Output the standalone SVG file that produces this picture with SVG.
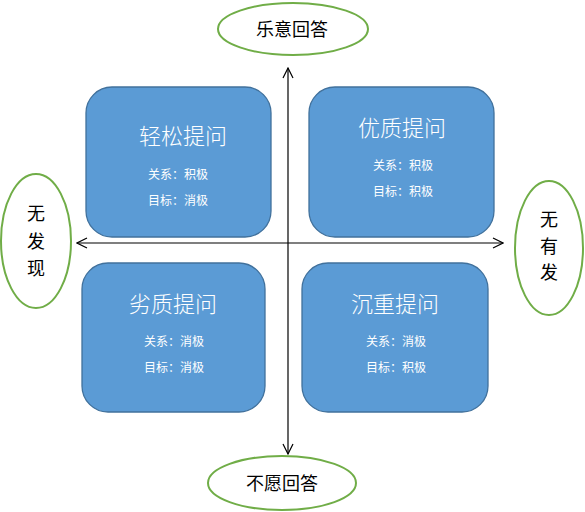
<svg xmlns="http://www.w3.org/2000/svg" width="585" height="512" viewBox="0 0 585 512">
<style>
.box{fill:#5B9BD5;stroke:#41719C;stroke-width:1.3}
.ell{fill:#fff;stroke:#70AD47;stroke-width:2}
.t{font-family:"Noto Sans CJK SC","Microsoft YaHei",sans-serif;fill:#fff;text-anchor:middle}
.h{font-size:22px;font-weight:300}
.s{font-size:12px}
.k{font-family:"Noto Sans CJK SC",sans-serif;fill:#000;text-anchor:middle;font-size:18px}
.ax{stroke:#000;stroke-width:1.2;fill:none}
</style>
<defs>
<marker id="arr" viewBox="0 0 12 12" refX="11" refY="6" markerWidth="12" markerHeight="12" markerUnits="userSpaceOnUse" orient="auto-start-reverse">
<path d="M1,1 L11,6 L1,11" fill="none" stroke="#000" stroke-width="1.2"/>
</marker>
</defs>
<rect width="585" height="512" fill="#fff"/>
<g id="connectors">
<line class="ax" x1="288" y1="68" x2="288" y2="454" marker-start="url(#arr)" marker-end="url(#arr)"/>
<line class="ax" x1="77" y1="243" x2="503" y2="243" marker-start="url(#arr)" marker-end="url(#arr)"/>
</g>
<g id="easy">
<rect class="box" x="86" y="87" width="185" height="150" rx="26"/>
<text class="t h" x="183" y="144">轻松提问</text>
<text class="t s" x="178" y="179">关系：积极</text>
<text class="t s" x="178" y="205">目标：消极</text>
</g>
<g id="quality">
<rect class="box" x="309" y="87" width="185" height="150" rx="26"/>
<text class="t h" x="402" y="136">优质提问</text>
<text class="t s" x="403" y="170">关系：积极</text>
<text class="t s" x="403" y="196">目标：积极</text>
</g>
<g id="poor">
<rect class="box" x="82" y="263" width="183" height="149" rx="26"/>
<text class="t h" x="173" y="312">劣质提问</text>
<text class="t s" x="174" y="346">关系：消极</text>
<text class="t s" x="174" y="372">目标：消极</text>
</g>
<g id="heavy">
<rect class="box" x="302" y="263" width="186" height="149" rx="26"/>
<text class="t h" x="395" y="312">沉重提问</text>
<text class="t s" x="396" y="346">关系：消极</text>
<text class="t s" x="396" y="372">目标：积极</text>
</g>
<g id="willing">
<ellipse class="ell" cx="293" cy="29" rx="75" ry="26"/>
<text class="k" x="292" y="36">乐意回答</text>
</g>
<g id="unwilling">
<ellipse class="ell" cx="282" cy="483" rx="74" ry="27"/>
<text class="k" x="282" y="490">不愿回答</text>
</g>
<g id="nofind">
<ellipse class="ell" cx="36" cy="241" rx="35" ry="67"/>
<text class="k" x="36" y="220">无</text>
<text class="k" x="36" y="248">发</text>
<text class="k" x="36" y="275">现</text>
</g>
<g id="nohas">
<ellipse class="ell" cx="549" cy="248" rx="34" ry="67"/>
<text class="k" x="549" y="226">无</text>
<text class="k" x="549" y="253">有</text>
<text class="k" x="549" y="279">发</text>
</g>
</svg>
